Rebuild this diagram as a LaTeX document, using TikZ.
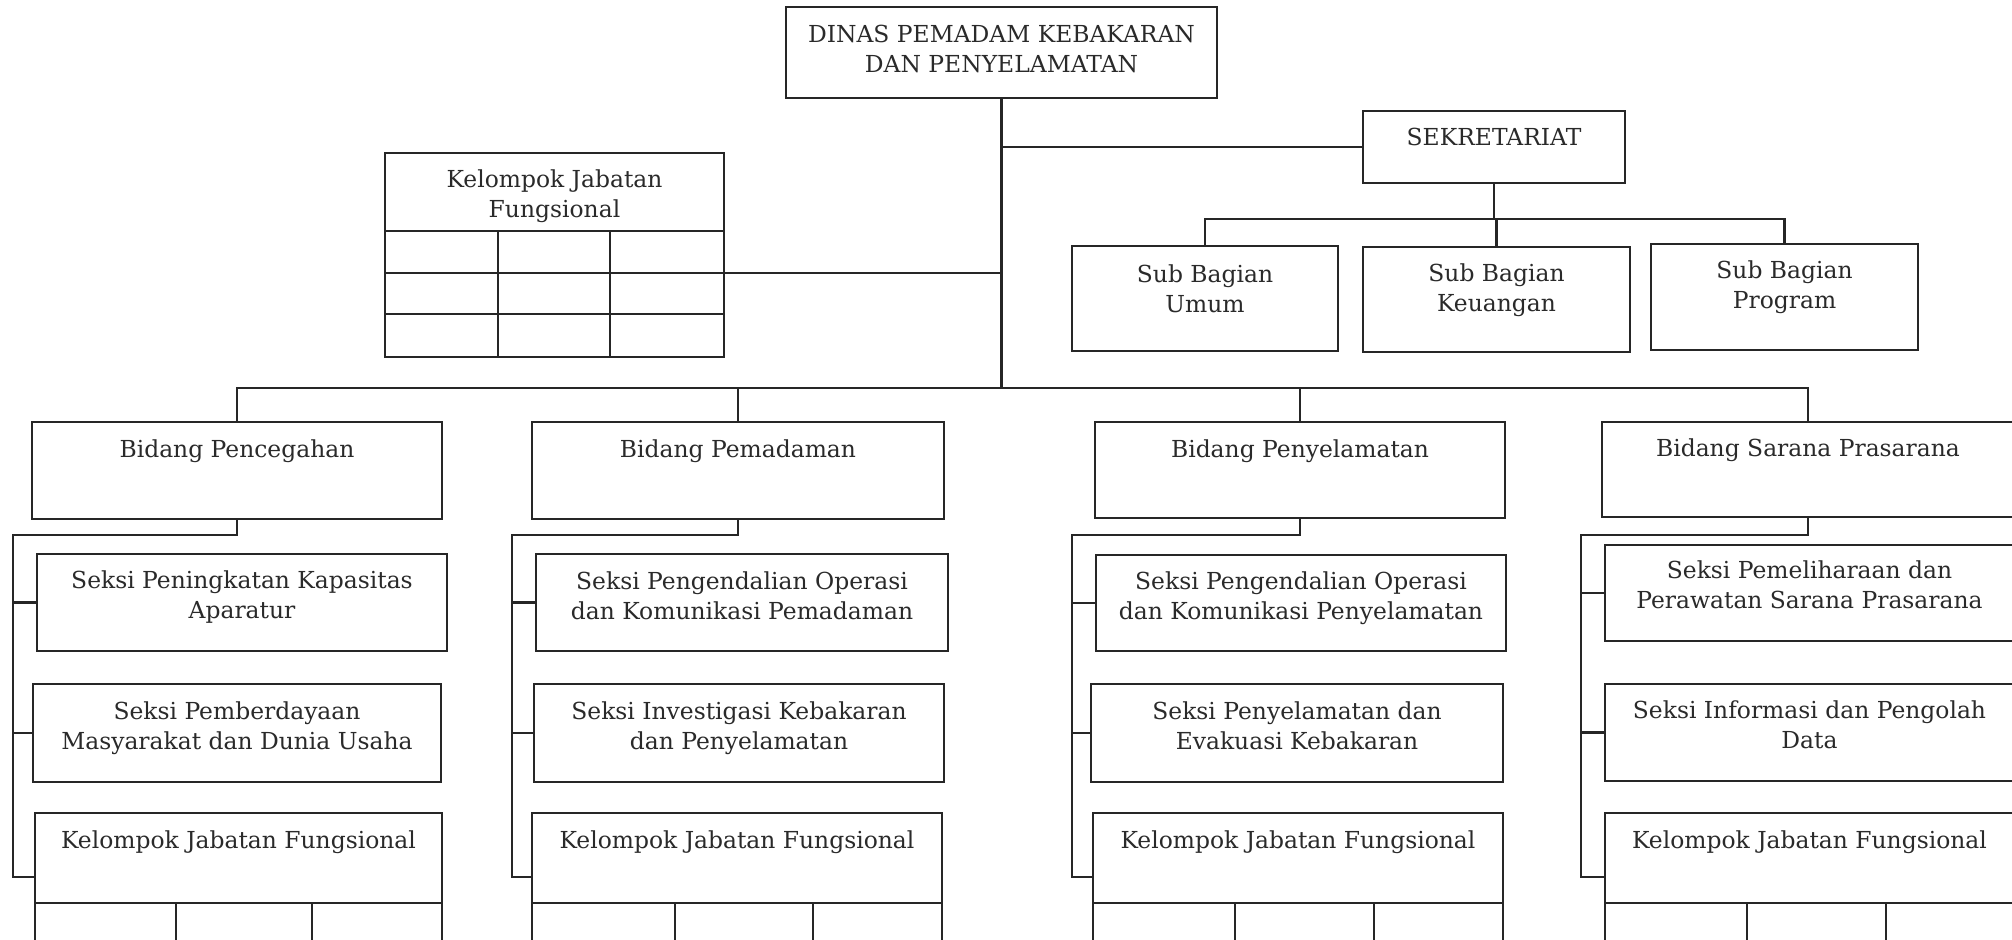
\documentclass[tikz,border=0pt]{standalone}
\usepackage{fontspec}
\setmainfont{DejaVu Serif}
\definecolor{ink}{HTML}{262626}
\definecolor{txt}{HTML}{2A2A2A}
\tikzset{
  bx/.style={draw=ink, line width=2.8bp, rectangle, inner sep=0pt, outer sep=0pt},
  tx/.style={align=center, inner sep=0pt, anchor=north, text=txt,
             font=\fontsize{23.5}{30}\selectfont},
  ln/.style={draw=ink, line width=2.4bp},
  gl/.style={draw=ink, line width=2.4bp},
}
% name, x1, y1, x2, y2, first baseline, text
\newcommand\obox[7]{%
  \pgfmathsetmacro\obcx{(#2+#4)/2}%
  \pgfmathsetmacro\obcy{(#3+#5)/2}%
  \pgfmathsetmacro\obw{#4-#2}%
  \pgfmathsetmacro\obh{#5-#3}%
  \pgfmathsetmacro\obty{#6-21}%
  \node[bx,minimum width=\obw bp,minimum height=\obh bp] (#1) at (\obcx,\obcy) {};%
  \node[tx] (#1t) at (\obcx,\obty) {\strut #7};%
}
\begin{document}
\begin{tikzpicture}[x=1bp,y=-1bp]
\useasboundingbox (0,0) rectangle (2012,940);
\clip (0,0) rectangle (2012,940);
\fill[white] (0,0) rectangle (2012,940);

% top
\obox{top}{786}{7}{1217}{98}{42}{DINAS PEMADAM KEBAKARAN\\DAN PENYELAMATAN}
\obox{sek}{1363}{111}{1625}{183}{145}{SEKRETARIAT}
\obox{sbU}{1072}{246}{1338}{351}{282}{Sub Bagian\\Umum}
\obox{sbK}{1363}{247}{1630}{352}{281}{Sub Bagian\\Keuangan}
\obox{sbP}{1651}{244}{1918}{350}{278}{Sub Bagian\\Program}
\obox{kjf}{385}{153}{724}{357}{187}{Kelompok Jabatan\\Fungsional}
\draw[gl] (385,231) -- (724,231);
\draw[gl] (385,273) -- (724,273);
\draw[gl] (385,314) -- (724,314);
\draw[gl] (498,231) -- (498,357);
\draw[gl] (610,231) -- (610,357);

% column A
\obox{pA}{32}{422}{442}{519}{457}{Bidang Pencegahan}
\obox{s1A}{37}{554}{447}{651}{588}{Seksi Peningkatan Kapasitas\\Aparatur}
\obox{s2A}{33}{684}{441}{782}{719}{Seksi Pemberdayaan\\Masyarakat dan Dunia Usaha}
\obox{kA}{35}{813}{442}{903}{848}{Kelompok Jabatan Fungsional}
\draw[gl] (35,903) rectangle (442,970);
\draw[gl] (176,903) -- (176,970);
\draw[gl] (312,903) -- (312,970);

% column B
\obox{pB}{532}{422}{944}{519}{457}{Bidang Pemadaman}
\obox{s1B}{536}{554}{948}{651}{589}{Seksi Pengendalian Operasi\\dan Komunikasi Pemadaman}
\obox{s2B}{534}{684}{944}{782}{719}{Seksi Investigasi Kebakaran\\dan Penyelamatan}
\obox{kB}{532}{813}{942}{903}{848}{Kelompok Jabatan Fungsional}
\draw[gl] (532,903) rectangle (942,970);
\draw[gl] (675,903) -- (675,970);
\draw[gl] (813,903) -- (813,970);

% column C
\obox{pC}{1095}{422}{1505}{518}{457}{Bidang Penyelamatan}
\obox{s1C}{1096}{555}{1506}{651}{589}{Seksi Pengendalian Operasi\\dan Komunikasi Penyelamatan}
\obox{s2C}{1091}{684}{1503}{782}{719}{Seksi Penyelamatan dan\\Evakuasi Kebakaran}
\obox{kC}{1093}{813}{1503}{903}{848}{Kelompok Jabatan Fungsional}
\draw[gl] (1093,903) rectangle (1503,970);
\draw[gl] (1235,903) -- (1235,970);
\draw[gl] (1374,903) -- (1374,970);

% column D
\obox{pD}{1602}{422}{2014}{517}{456}{Bidang Sarana Prasarana}
\obox{s1D}{1605}{545}{2014}{641}{578}{Seksi Pemeliharaan dan\\Perawatan Sarana Prasarana}
\obox{s2D}{1605}{684}{2014}{781}{718}{Seksi Informasi dan Pengolah\\Data}
\obox{kD}{1605}{813}{2014}{903}{848}{Kelompok Jabatan Fungsional}
\draw[gl] (1605,903) rectangle (2014,970);
\draw[gl] (1747,903) -- (1747,970);
\draw[gl] (1886,903) -- (1886,970);

% connectors top
\coordinate (busY) at (0,388);
\coordinate (subY) at (0,219);
\coordinate (kjfc) at (724,273);
\draw[ln] (top.south) -- (top.south |- busY);
\draw[ln] (sek.west) -- (sek.west -| top.south);
\draw[ln] (kjfc) -- (kjfc -| top.south);
\draw[ln] (sek.south) -- (sek.south |- subY);
\draw[ln] (sbU.north) |- (sbP.north |- subY) -- (sbP.north);
\draw[ln] (sbK.north) -- (sbK.north |- subY);
\draw[ln] (pA.north) |- (pD.north |- busY) -- (pD.north);
\draw[ln] (pB.north) -- (pB.north |- busY);
\draw[ln] (pC.north) -- (pC.north |- busY);

% column connectors
\coordinate (eA) at (13,535);   \coordinate (fA) at (13,877);
\coordinate (eB) at (512,535);  \coordinate (fB) at (512,877);
\coordinate (eC) at (1072,535); \coordinate (fC) at (1072,877);
\coordinate (eD) at (1581,535); \coordinate (fD) at (1581,877);
\foreach \c in {A,B,C,D}{
  \draw[ln] (p\c.south) |- (e\c) -- (f\c) -- (f\c -| k\c.west);
  \draw[ln] (e\c |- s1\c.west) -- (s1\c.west);
  \draw[ln] (e\c |- s2\c.west) -- (s2\c.west);
}
\end{tikzpicture}
\end{document}
